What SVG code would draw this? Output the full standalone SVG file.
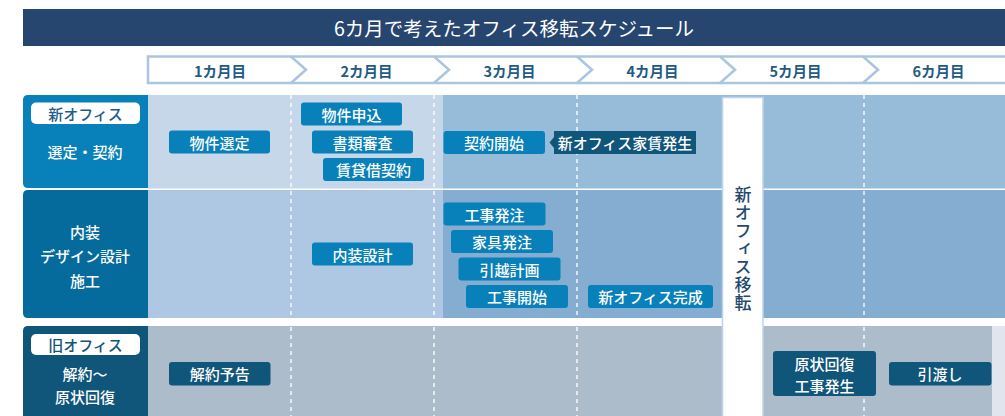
<svg xmlns="http://www.w3.org/2000/svg" width="1005" height="416" viewBox="0 0 1005 416">
  <style>
    text { font-family: "Noto Sans CJK JP", "Noto Sans", sans-serif; }
    .title { fill: #ffffff; font-size: 19.5px; }
    .month { fill: #1f5b84; font-size: 14.5px; font-weight: 700; }
    .lbl { fill: #ffffff; font-size: 15px; font-weight: 500; }
    .pilltxt { font-size: 15px; font-weight: 500; }
    .bx { fill: #0880b9; }
    .bxd { fill: #10557a; }
    .bt { fill: #ffffff; font-size: 15px; font-weight: 500; }
    .dash { stroke: #ffffff; stroke-width: 1.5; stroke-dasharray: 4 4; opacity: 0.9; }
    .chev { fill: none; stroke: #a9c5e0; stroke-width: 2.5; }
  </style>

  <!-- Title -->
  <g id="title">
    <rect x="23" y="9" width="982" height="37" fill="#27466f"/>
    <text class="title" x="514" y="27.5" text-anchor="middle" dominant-baseline="central">6カ月で考えたオフィス移転スケジュール</text>
  </g>

  <!-- Month header -->
  <g id="months">
    <rect x="147" y="56.5" width="870" height="26.5" fill="#ffffff"/>
    <path class="chev" d="M1010,56.5 H148 V83 H1010"/>
    <polyline class="chev" points="291,56.5 306,69.75 291,83"/>
    <polyline class="chev" points="434,56.5 449,69.75 434,83"/>
    <polyline class="chev" points="577,56.5 592,69.75 577,83"/>
    <polyline class="chev" points="720,56.5 735,69.75 720,83"/>
    <polyline class="chev" points="863,56.5 878,69.75 863,83"/>
    <text class="month" x="220" y="70" text-anchor="middle" dominant-baseline="central">1カ月目</text>
    <text class="month" x="366.5" y="70" text-anchor="middle" dominant-baseline="central">2カ月目</text>
    <text class="month" x="509.5" y="70" text-anchor="middle" dominant-baseline="central">3カ月目</text>
    <text class="month" x="652.5" y="70" text-anchor="middle" dominant-baseline="central">4カ月目</text>
    <text class="month" x="795.5" y="70" text-anchor="middle" dominant-baseline="central">5カ月目</text>
    <text class="month" x="938.5" y="70" text-anchor="middle" dominant-baseline="central">6カ月目</text>
  </g>

  <!-- Row backgrounds -->
  <g id="backgrounds">
    <rect x="148" y="95" width="295" height="93.5" fill="#c6d7e9"/>
    <rect x="443" y="95" width="562" height="93.5" fill="#97bcda"/>
    <rect x="148" y="190" width="295" height="128" fill="#aec7e2"/>
    <rect x="443" y="190" width="562" height="128" fill="#84add1"/>
    <rect x="148" y="326" width="844" height="95" fill="#acbccb"/>
    <rect x="992" y="326" width="13" height="95" fill="#e1e5ed"/>
  </g>

  <!-- Column dashed lines -->
  <g id="gridlines">
    <line class="dash" x1="291" y1="95" x2="291" y2="416"/>
    <line class="dash" x1="434" y1="95" x2="434" y2="416"/>
    <line class="dash" x1="577" y1="95" x2="577" y2="416"/>
    <line class="dash" x1="864" y1="95" x2="864" y2="416"/>
  </g>

  <!-- Move bar -->
  <g id="move-bar">
    <rect x="722.5" y="97.5" width="40.5" height="330" fill="#ffffff" stroke="#bdd3e9" stroke-width="1.5"/>
    <text x="743" y="186" font-size="17" fill="#1f4a6e" writing-mode="vertical-rl" letter-spacing="1" style="font-weight:500">新オフィス移転</text>
  </g>

  <!-- Row labels -->
  <g id="label-new-office">
    <path d="M28,95 H148 V188 H28 Q23,188 23,183 V100 Q23,95 28,95 Z" fill="#0880b9"/>
    <rect x="31" y="102.5" width="109" height="21.5" rx="5" fill="#ffffff"/>
    <text class="pilltxt" x="85.5" y="113.3" text-anchor="middle" dominant-baseline="central" fill="#1c5d89">新オフィス</text>
    <text class="lbl" x="85" y="151.5" text-anchor="middle" dominant-baseline="central">選定・契約</text>
  </g>
  <g id="label-interior">
    <path d="M28,190 H148 V318 H28 Q23,318 23,313 V195 Q23,190 28,190 Z" fill="#056b9c"/>
    <text class="lbl" x="85" y="231.5" text-anchor="middle" dominant-baseline="central">内装</text>
    <text class="lbl" x="85" y="255.5" text-anchor="middle" dominant-baseline="central">デザイン設計</text>
    <text class="lbl" x="85" y="280" text-anchor="middle" dominant-baseline="central">施工</text>
  </g>
  <g id="label-old-office">
    <path d="M28,326 H148 V421 H23 V331 Q23,326 28,326 Z" fill="#10557a"/>
    <rect x="31" y="334" width="109" height="21" rx="5" fill="#ffffff"/>
    <text class="pilltxt" x="85.5" y="344.5" text-anchor="middle" dominant-baseline="central" fill="#10557a">旧オフィス</text>
    <text class="lbl" x="85" y="373" text-anchor="middle" dominant-baseline="central">解約〜</text>
    <text class="lbl" x="85" y="396.5" text-anchor="middle" dominant-baseline="central">原状回復</text>
  </g>

  <!-- Row 1 tasks -->
  <g id="task-bukken-sentei">
    <rect class="bx" x="169" y="130.5" width="101" height="23" rx="3"/>
    <text class="bt" x="219.5" y="142" text-anchor="middle" dominant-baseline="central">物件選定</text>
  </g>
  <g id="task-bukken-moushikomi">
    <rect class="bx" x="301" y="102.5" width="101" height="23" rx="3"/>
    <text class="bt" x="351.5" y="114" text-anchor="middle" dominant-baseline="central">物件申込</text>
  </g>
  <g id="task-shorui-shinsa">
    <rect class="bx" x="312" y="130.5" width="101" height="23" rx="3"/>
    <text class="bt" x="362.5" y="142" text-anchor="middle" dominant-baseline="central">書類審査</text>
  </g>
  <g id="task-chintai-keiyaku">
    <rect class="bx" x="323" y="158" width="101" height="23" rx="3"/>
    <text class="bt" x="373.5" y="169.5" text-anchor="middle" dominant-baseline="central">賃貸借契約</text>
  </g>
  <g id="task-keiyaku-kaishi">
    <rect class="bx" x="443.5" y="131" width="101.5" height="23" rx="3"/>
    <text class="bt" x="494" y="142.5" text-anchor="middle" dominant-baseline="central">契約開始</text>
  </g>
  <g id="note-yachin">
    <rect class="bxd" x="554" y="131" width="142" height="23"/>
    <text class="bt" x="625" y="142.5" text-anchor="middle" dominant-baseline="central">新オフィス家賃発生</text>
  </g>

  <!-- Row 2 tasks -->
  <g id="task-naisou-sekkei">
    <rect class="bx" x="312" y="242.5" width="101" height="23" rx="3"/>
    <text class="bt" x="362.5" y="254" text-anchor="middle" dominant-baseline="central">内装設計</text>
  </g>
  <g id="task-kouji-hacchu">
    <rect class="bx" x="443.5" y="202.5" width="102" height="23" rx="3"/>
    <text class="bt" x="494.5" y="214" text-anchor="middle" dominant-baseline="central">工事発注</text>
  </g>
  <g id="task-kagu-hacchu">
    <rect class="bx" x="451" y="230" width="102" height="23" rx="3"/>
    <text class="bt" x="502" y="241.5" text-anchor="middle" dominant-baseline="central">家具発注</text>
  </g>
  <g id="task-hikkoshi-keikaku">
    <rect class="bx" x="458.5" y="257.5" width="102" height="23" rx="3"/>
    <text class="bt" x="509.5" y="269" text-anchor="middle" dominant-baseline="central">引越計画</text>
  </g>
  <g id="task-kouji-kaishi">
    <rect class="bx" x="466" y="285" width="102" height="23" rx="3"/>
    <text class="bt" x="517" y="296.5" text-anchor="middle" dominant-baseline="central">工事開始</text>
  </g>
  <g id="task-kansei">
    <rect class="bx" x="588" y="285" width="125" height="23" rx="3"/>
    <text class="bt" x="650.5" y="296.5" text-anchor="middle" dominant-baseline="central">新オフィス完成</text>
  </g>

  <!-- Row 3 tasks -->
  <g id="task-kaiyaku-yokoku">
    <rect class="bxd" x="169" y="362" width="101.5" height="23.5" rx="3"/>
    <text class="bt" x="219.7" y="373.7" text-anchor="middle" dominant-baseline="central">解約予告</text>
  </g>
  <g id="task-genjou-kaifuku">
    <rect class="bxd" x="773" y="351" width="103" height="45" rx="3"/>
    <text class="bt" x="824.5" y="363.5" text-anchor="middle" dominant-baseline="central">原状回復</text>
    <text class="bt" x="824.5" y="385" text-anchor="middle" dominant-baseline="central">工事発生</text>
  </g>
  <g id="task-hikiwatashi">
    <rect class="bxd" x="889" y="362" width="102.5" height="23.5" rx="3"/>
    <text class="bt" x="940" y="373.7" text-anchor="middle" dominant-baseline="central">引渡し</text>
  </g>

  <!-- Connectors -->
  <g id="connectors">
    <polygon points="554,137 549.5,142.5 554,148" fill="#10557a"/>
  </g>
</svg>
